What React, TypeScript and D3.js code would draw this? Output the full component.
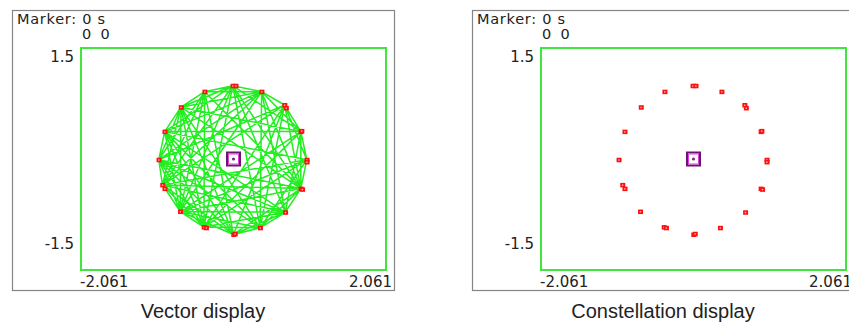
import { scaleLinear, line } from "d3";

// 16 symbol states (I, Q), clockwise from the top
const stateI = [-0.01, 0.38, 0.69, 0.91, 0.99, 0.91, 0.7, 0.36, 0.0, -0.4, -0.72, -0.96, -1.01, -0.93, -0.71, -0.39];
const stateQ = [0.99, 0.91, 0.73, 0.37, -0.01, -0.4, -0.72, -0.93, -1.02, -0.92, -0.71, -0.35, -0.01, 0.37, 0.7, 0.91];

// extra samples that sit next to a state (the doubled marks)
const extraI = [0.71, -0.93, 0.03, 0.02, 0.93, -0.37, 0.92, 0.99];
const extraQ = [0.69, -0.4, 0.99, -1.01, -0.41, -0.93, 0.38, -0.04];

// symbol order for the vector trace
const sequence = [
  0, 5, 8, 14, 0, 7, 4, 10, 11, 0, 3, 10, 8, 13, 0, 6, 13, 9, 11, 5, 4, 11, 14, 3, 9, 6, 10, 15, 8, 6, 1, 7,
  12, 11, 2, 5, 11, 15, 12, 5, 7, 13, 0, 11, 5, 6, 11, 14, 7, 1, 3, 9, 14, 13, 3, 10, 7, 12, 14, 5, 3, 14, 8,
  11, 2, 1, 5, 10, 0, 7, 9, 15, 9, 10, 11, 12, 13, 14, 15, 0, 1, 2, 3, 4, 5, 6, 7, 8,
  11, 1, 6, 3, 10, 12, 7, 13, 0, 5, 12, 6, 8, 13, 6, 9, 15, 1, 5, 7, 10, 4, 11, 1, 14, 9, 0, 10, 9, 12, 1, 10,
  14, 12, 2, 9, 4, 9, 15, 10, 13, 4, 2, 7, 13, 1, 7, 5, 12, 15, 5, 2, 8, 12, 15, 8, 5, 10, 0,
];

const xDomain = [-2.061, 2.061];
const yDomain = [-1.5, 1.5];
const xTicks = ["-2.061", "2.061"];
const yTicks = ["1.5", "-1.5"];
const markerText = "Marker: 0 s";
const markerValues = "0  0";

const W = 849;
const H = 326;
const font = "'DejaVu Sans', sans-serif";

function Panel({ dx, vector, caption }: { dx: number; vector: boolean; caption: string }) {
  const x = scaleLinear().domain(xDomain).range([81, 386]);
  const y = scaleLinear().domain(yDomain).range([270, 48]);

  const pts: [number, number][] = sequence.map((s) => [x(stateI[s]), y(stateQ[s])]);
  const path = line()(pts) || "";

  const marks = stateI.map((v, i) => [x(v), y(stateQ[i])]).concat(extraI.map((v, i) => [x(v), y(extraQ[i])]));

  return (
    <g transform={`translate(${dx},0)`}>
      <rect x={12.5} y={10.5} width={382} height={280} fill="white" stroke="#858585" strokeWidth={1.2} />
      <text x={17} y={24} fontFamily={font} fontSize={14.5} fill="#222" textLength={88}>{markerText}</text>
      <text x={82} y={39} fontFamily={font} fontSize={14.5} fill="#222" style={{ whiteSpace: "pre" }}>
        {markerValues}
      </text>
      <text x={74} y={62} textAnchor="end" fontFamily={font} fontSize={15} fill="#222">{yTicks[0]}</text>
      <text x={74} y={249} textAnchor="end" fontFamily={font} fontSize={15} fill="#222">{yTicks[1]}</text>
      <text x={80} y={287} fontFamily={font} fontSize={15} fill="#222">{xTicks[0]}</text>
      <text x={392} y={287} textAnchor="end" fontFamily={font} fontSize={15} fill="#222">{xTicks[1]}</text>
      <rect x={x(xDomain[0])} y={y(yDomain[1])} width={x(xDomain[1]) - x(xDomain[0])} height={y(yDomain[0]) - y(yDomain[1])}
        fill="white" stroke="#3ee63e" strokeWidth={2} />
      {vector && <path d={path} fill="none" stroke="#22ee22" strokeWidth={1.5} strokeLinejoin="round" />}
      {marks.map(([mx, my], i) => (
        <g key={i}>
          <rect x={mx - 2.2} y={my - 2} width={5} height={4.5} fill="#ff1010" />
          <rect x={mx - 0.5} y={my - 0.4} width={1.3} height={1.3} fill="#ffd0d0" />
        </g>
      ))}
      <rect x={x(0) - 6.5} y={y(0) - 6.5} width={13} height={13} fill="white" stroke="#6a1670" strokeWidth={2} />
      <rect x={x(0) - 5} y={y(0) - 5} width={10} height={10} fill="none" stroke="#e040e0" strokeWidth={1} />
      <circle cx={x(0)} cy={y(0)} r={1.6} fill="#7a2a80" />
      <text x={203} y={318} textAnchor="middle" fontFamily="'Liberation Sans Narrow', 'Liberation Sans', sans-serif"
        fontSize={20} fill="#222">{caption}</text>
    </g>
  );
}

export default function App() {
  return (
    <div style={{ position: "absolute", left: 0, top: 0 }}>
      <svg width={W} height={H} style={{ display: "block", background: "white" }}>
        <Panel dx={0} vector={true} caption="Vector display" />
        <Panel dx={460} vector={false} caption="Constellation display" />
      </svg>
    </div>
  );
}
